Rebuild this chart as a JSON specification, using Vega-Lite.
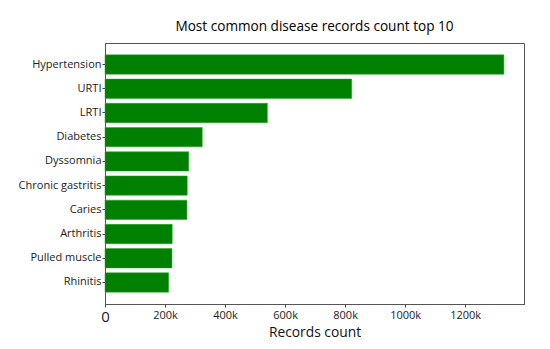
{
  "$schema": "https://vega.github.io/schema/vega-lite/v6.json",
  "autosize": "none",
  "width": 419,
  "height": 261,
  "padding": {"left": 105, "top": 43, "right": 26, "bottom": 45},
  "background": "white",
  "title": {
    "text": "Most common disease records count top 10",
    "font": "Open Sans",
    "fontSize": 13.6,
    "fontWeight": "normal",
    "color": "#000",
    "offset": 9,
    "anchor": "middle"
  },
  "config": {
    "view": {"stroke": "#555", "strokeWidth": 1},
    "font": "Open Sans"
  },
  "data": {
    "values": [
      {"disease": "Hypertension", "count": 1329000},
      {"disease": "URTI", "count": 822000},
      {"disease": "LRTI", "count": 541000},
      {"disease": "Diabetes", "count": 324000},
      {"disease": "Dyssomnia", "count": 279000},
      {"disease": "Chronic gastritis", "count": 274000},
      {"disease": "Caries", "count": 273000},
      {"disease": "Arthritis", "count": 224000},
      {"disease": "Pulled muscle", "count": 223000},
      {"disease": "Rhinitis", "count": 212000}
    ]
  },
  "mark": {"type": "bar", "color": "#008000", "stroke": "#2ca02c", "strokeWidth": 0.5},
  "encoding": {
    "y": {
      "field": "disease",
      "type": "nominal",
      "sort": null,
      "scale": {"paddingInner": 0.2, "paddingOuter": 0.49},
      "axis": {
        "title": null,
        "labelFont": "Open Sans",
        "labelFontSize": 11,
        "labelColor": "#222",
        "tickSize": 3,
        "tickColor": "#444",
        "domainColor": "#555",
        "labelPadding": 1
      }
    },
    "x": {
      "field": "count",
      "type": "quantitative",
      "scale": {"domain": [0, 1396000], "nice": false, "zero": true},
      "axis": {
        "title": "Records count",
        "titleFont": "Open Sans",
        "titleFontSize": 13.8,
        "titleFontWeight": "normal",
        "titleColor": "#111",
        "titlePadding": 1,
        "values": [0, 200000, 400000, 600000, 800000, 1000000, 1200000],
        "labelExpr": "datum.value === 0 ? '0' : (datum.value / 1000) + 'k'",
        "labelFontSize": {"condition": {"test": "datum.value === 0", "value": 15}, "value": 11},
        "labelFont": "Open Sans",
        "labelColor": "#222",
        "labelFlush": false,
        "grid": false,
        "tickSize": 3,
        "tickColor": "#444",
        "domainColor": "#555",
        "labelPadding": 2
      }
    }
  }
}
